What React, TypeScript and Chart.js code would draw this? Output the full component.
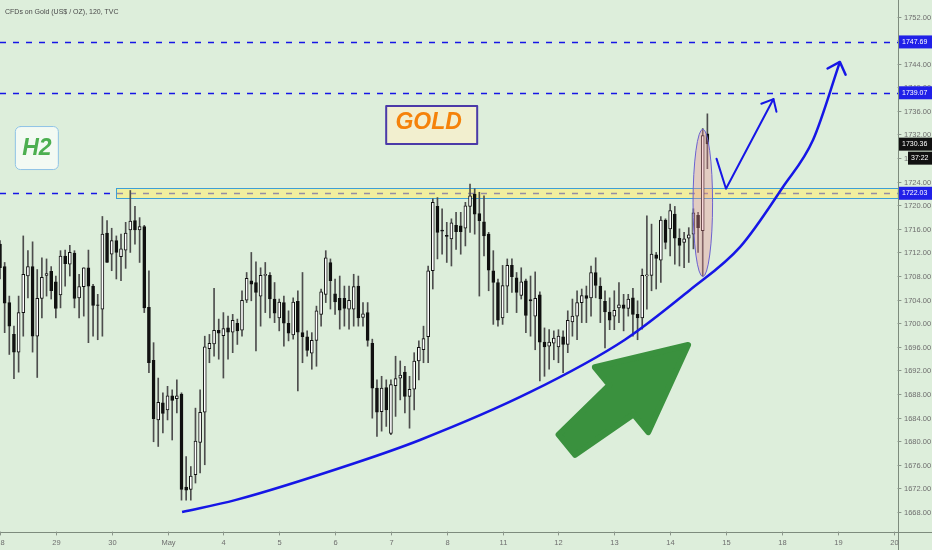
import { useEffect, useRef } from 'react';
import { Chart, registerables } from 'chart.js';
Chart.register(...registerables);

const TITLE = 'CFDs on Gold (US$ / OZ), 120, TVC';
const DAY_LABELS = ['28', '29', '30', 'May', '4', '5', '6', '7', '8', '11', '12', '13', '14', '15', '18', '19', '20'];
const PRICE_TICKS = [1668, 1672, 1676, 1680, 1684, 1688, 1692, 1696, 1700, 1704, 1708, 1712, 1716, 1720, 1724, 1728, 1732, 1736, 1740, 1744, 1748, 1752];
const BARS_PER_DAY = 12;

const OPEN = [
  1713.4, 1709.6, 1703.5, 1698.1, 1695.1, 1701.8, 1708.0, 1709.6, 1697.8, 1704.2,
  1708.1, 1708.8, 1707.0, 1704.8, 1711.4, 1710.0, 1711.9, 1704.3, 1706.2, 1709.4,
  1706.3, 1703.1, 1702.4, 1715.3, 1711.7, 1714.0, 1711.3, 1712.4, 1715.8, 1717.4,
  1715.8, 1716.4, 1702.7, 1693.7, 1683.6, 1686.5, 1685.3, 1687.7, 1687.2, 1688.0,
  1672.2, 1671.8, 1674.3, 1679.8, 1684.9, 1695.7, 1696.5, 1698.8, 1697.9, 1699.2,
  1698.5, 1700.0, 1698.8, 1703.9, 1707.2, 1706.9, 1704.6, 1708.1, 1708.1, 1704.1,
  1700.9, 1703.5, 1700.0, 1698.0, 1703.7, 1698.4, 1697.7, 1694.9, 1697.1, 1701.5,
  1704.9, 1710.3, 1705.0, 1704.2, 1704.2, 1702.4, 1702.4, 1706.3, 1701.0, 1701.8,
  1696.6, 1689.0, 1685.0, 1689.1, 1681.3, 1689.4, 1690.7, 1691.7, 1687.6, 1688.8,
  1693.6, 1695.5, 1697.7, 1708.9, 1719.8, 1715.8, 1714.9, 1714.3, 1716.6, 1716.5,
  1716.1, 1719.8, 1721.9, 1718.6, 1717.2, 1715.1, 1708.9, 1706.9, 1700.9, 1706.3,
  1709.8, 1707.7, 1704.7, 1707.2, 1704.0, 1701.2, 1704.8, 1696.8, 1696.1, 1696.6,
  1696.0, 1697.7, 1696.4, 1700.2, 1701.2, 1703.5, 1704.7, 1704.3, 1708.6, 1706.3,
  1703.7, 1701.9, 1701.2, 1702.6, 1703.1, 1702.5, 1704.3, 1701.5, 1700.9, 1708.0,
  1708.1, 1711.6, 1710.7, 1717.5, 1716.0, 1718.5, 1714.4, 1713.7, 1714.4, 1715.1,
  1718.3, 1715.7, 1732.1,
];
const HIGH = [
  1714.0, 1710.3, 1704.6, 1699.5, 1704.6, 1714.8, 1712.3, 1713.8, 1709.1, 1711.1,
  1710.9, 1709.6, 1708.0, 1712.3, 1712.4, 1713.2, 1712.3, 1708.3, 1709.4, 1712.4,
  1706.6, 1704.9, 1718.1, 1717.4, 1716.1, 1714.8, 1715.1, 1717.1, 1722.5, 1719.8,
  1717.9, 1716.6, 1708.9, 1696.7, 1690.7, 1688.2, 1689.3, 1688.7, 1690.4, 1688.2,
  1677.4, 1675.7, 1685.6, 1688.7, 1697.8, 1698.1, 1705.9, 1700.7, 1701.8, 1701.2,
  1701.5, 1700.7, 1705.5, 1708.6, 1712.0, 1710.4, 1709.4, 1710.3, 1708.6, 1706.9,
  1704.1, 1704.6, 1702.1, 1704.3, 1705.5, 1708.6, 1698.7, 1698.4, 1702.9, 1705.8,
  1712.3, 1710.9, 1707.5, 1708.0, 1706.3, 1706.3, 1708.3, 1708.0, 1703.5, 1703.5,
  1697.3, 1690.4, 1691.0, 1690.4, 1690.4, 1694.4, 1693.6, 1692.7, 1691.0, 1695.0,
  1697.0, 1699.5, 1709.7, 1721.1, 1721.3, 1719.4, 1717.1, 1717.7, 1718.8, 1718.8,
  1720.5, 1723.6, 1722.8, 1722.2, 1721.6, 1715.4, 1712.3, 1707.5, 1709.8, 1710.9,
  1710.9, 1708.6, 1709.4, 1707.5, 1708.0, 1708.7, 1705.3, 1699.2, 1698.9, 1698.7,
  1698.9, 1698.7, 1702.1, 1704.1, 1705.5, 1705.8, 1706.3, 1709.7, 1711.1, 1707.7,
  1705.5, 1704.3, 1705.5, 1706.9, 1704.9, 1704.9, 1705.9, 1703.8, 1709.2, 1718.2,
  1716.8, 1712.0, 1718.1, 1717.7, 1720.2, 1719.8, 1716.0, 1715.4, 1716.2, 1719.4,
  1718.8, 1733.0, 1735.5,
];
const LOW = [
  1707.5, 1698.4, 1694.7, 1690.6, 1691.7, 1697.8, 1704.3, 1695.1, 1690.8, 1700.9,
  1704.6, 1704.1, 1700.9, 1702.6, 1706.3, 1708.0, 1702.6, 1700.9, 1701.2, 1696.7,
  1697.8, 1697.2, 1697.8, 1710.3, 1708.9, 1707.5, 1707.2, 1709.3, 1712.0, 1713.4,
  1710.3, 1701.8, 1691.6, 1679.9, 1679.1, 1681.4, 1683.6, 1680.2, 1684.8, 1670.0,
  1670.0, 1670.0, 1672.9, 1674.6, 1676.0, 1693.3, 1694.4, 1693.9, 1690.7, 1693.9,
  1695.0, 1696.4, 1697.8, 1703.5, 1703.8, 1695.3, 1699.5, 1701.8, 1700.9, 1700.1,
  1698.7, 1696.1, 1697.0, 1697.3, 1688.5, 1693.3, 1694.4, 1692.2, 1692.7, 1699.5,
  1703.5, 1702.4, 1701.5, 1699.0, 1699.5, 1699.0, 1699.5, 1699.5, 1699.5, 1696.1,
  1683.9, 1680.8, 1681.7, 1682.5, 1681.1, 1684.2, 1687.0, 1684.8, 1682.2, 1685.3,
  1690.4, 1693.3, 1693.3, 1705.8, 1710.9, 1711.7, 1710.3, 1709.7, 1712.5, 1711.7,
  1713.1, 1715.4, 1715.1, 1704.6, 1711.4, 1705.5, 1699.8, 1699.5, 1699.8, 1701.8,
  1705.2, 1701.8, 1704.1, 1698.4, 1697.8, 1695.5, 1690.2, 1691.0, 1692.2, 1693.8,
  1693.3, 1691.6, 1695.0, 1697.8, 1697.2, 1700.1, 1700.1, 1701.2, 1704.3, 1700.1,
  1695.8, 1698.9, 1698.9, 1700.1, 1698.7, 1701.2, 1697.8, 1697.2, 1699.0, 1702.4,
  1705.5, 1705.8, 1706.9, 1712.6, 1711.4, 1710.0, 1709.7, 1709.4, 1710.3, 1712.6,
  1712.0, 1708.0, 1726.2,
];
const CLOSE = [
  1709.4, 1703.4, 1699.5, 1695.1, 1701.8, 1708.3, 1709.6, 1697.8, 1704.2, 1707.8,
  1708.4, 1705.5, 1702.5, 1711.4, 1710.1, 1712.0, 1704.2, 1706.2, 1709.4, 1706.3,
  1703.0, 1703.0, 1715.1, 1710.3, 1714.0, 1712.0, 1712.6, 1715.3, 1717.3, 1715.8,
  1716.4, 1702.6, 1693.3, 1683.8, 1686.6, 1684.7, 1687.7, 1686.9, 1687.7, 1671.8,
  1671.7, 1674.1, 1680.0, 1684.9, 1696.0, 1696.6, 1698.8, 1698.3, 1699.1, 1698.5,
  1700.5, 1698.7, 1703.9, 1707.6, 1706.6, 1705.2, 1708.1, 1708.3, 1704.1, 1701.7,
  1703.6, 1700.0, 1698.3, 1703.6, 1698.5, 1697.7, 1695.4, 1697.1, 1702.1, 1705.3,
  1711.1, 1707.2, 1703.6, 1702.2, 1702.5, 1703.9, 1706.2, 1700.9, 1701.6, 1697.1,
  1689.0, 1684.9, 1689.0, 1685.3, 1689.6, 1690.6, 1691.2, 1687.6, 1688.8, 1693.6,
  1695.9, 1697.4, 1708.9, 1720.5, 1715.4, 1715.6, 1714.7, 1717.0, 1715.5, 1715.5,
  1719.9, 1721.6, 1718.5, 1717.4, 1714.8, 1709.0, 1706.9, 1700.5, 1706.4, 1709.8,
  1707.9, 1705.2, 1707.0, 1701.3, 1703.8, 1704.2, 1696.8, 1696.0, 1696.8, 1697.5,
  1697.8, 1696.4, 1700.5, 1701.2, 1703.5, 1704.7, 1704.2, 1708.6, 1706.4, 1704.1,
  1701.9, 1700.5, 1702.2, 1703.1, 1702.5, 1704.1, 1701.5, 1700.9, 1708.1, 1708.2,
  1711.7, 1711.0, 1717.5, 1713.7, 1719.1, 1714.4, 1713.2, 1714.3, 1715.0, 1718.7,
  1716.2, 1731.8, 1730.4,
];

const LEVELS = [1747.69, 1739.07, 1722.03];
const LAST_PRICE = 1730.36;
const COUNTDOWN = '37:22';
const ZONE_LOW = 1721.2;
const ZONE_HIGH = 1722.9;
const ZONE_START_DAY = 2.08;

const CURVE_DAYS = [3.26, 4.21, 6.36, 7.52, 9.49, 11.19, 12.35, 13.25, 14.02, 14.56, 15.04];
const CURVE_PRICES = [1668.0, 1670.0, 1676.3, 1680.2, 1688.3, 1697.2, 1705.6, 1712.9, 1723.1, 1731.1, 1744.3];
const ZIGZAG_DAYS = [12.83, 13.0, 13.85];
const ZIGZAG_PRICES = [1727.9, 1722.8, 1738.0];
const ELLIPSE_DAYS = [12.41, 12.76];
const ELLIPSE_PRICES = [1707.9, 1732.9];
const GREEN_ARROW_DAYS = [10.15, 12.32];
const GREEN_ARROW_PRICES = [1679.4, 1696.3];
const GOLD_LABEL = { text: 'GOLD', day: 7.73, price: 1733.6 };
const TF_LABEL = { text: 'H2', day: 0.66, price: 1729.7 };

const BG = '#ddeedb';
const BLUE = '#1616e6';

function arrowHead(ctx: CanvasRenderingContext2D, fx: number, fy: number, tx: number, ty: number, len: number, ang: number) {
  const a = Math.atan2(ty - fy, tx - fx);
  ctx.beginPath();
  ctx.moveTo(tx - len * Math.cos(a - ang), ty - len * Math.sin(a - ang));
  ctx.lineTo(tx, ty);
  ctx.lineTo(tx - len * Math.cos(a + ang), ty - len * Math.sin(a + ang));
  ctx.stroke();
}

function roundRect(ctx: CanvasRenderingContext2D, x: number, y: number, w: number, h: number, r: number) {
  ctx.beginPath();
  ctx.moveTo(x + r, y);
  ctx.lineTo(x + w - r, y);
  ctx.arcTo(x + w, y, x + w, y + r, r);
  ctx.lineTo(x + w, y + h - r);
  ctx.arcTo(x + w, y + h, x + w - r, y + h, r);
  ctx.lineTo(x + r, y + h);
  ctx.arcTo(x, y + h, x, y + h - r, r);
  ctx.lineTo(x, y + r);
  ctx.arcTo(x, y, x + r, y, r);
  ctx.closePath();
}

const annotations = {
  id: 'annotations',
  beforeDatasetsDraw(chart: any) {
    const { ctx, chartArea: ca, scales } = chart;
    const xs = scales.x, ys = scales.y;
    ctx.save();
    ctx.fillStyle = '#4a4a4a';
    ctx.font = '7px "Liberation Sans", Arial, sans-serif';
    ctx.textBaseline = 'middle';
    ctx.textAlign = 'left';
    ctx.fillText(TITLE, 5, 12);
    ctx.strokeStyle = BLUE;
    ctx.lineWidth = 1.5;
    ctx.setLineDash([6, 7]);
    LEVELS.forEach((p) => {
      const y = Math.round(ys.getPixelForValue(p)) + 0.5;
      ctx.beginPath();
      ctx.moveTo(ca.left, y);
      ctx.lineTo(ca.right, y);
      ctx.stroke();
    });
    ctx.setLineDash([]);
    const zx = xs.getPixelForValue(ZONE_START_DAY);
    const zt = ys.getPixelForValue(ZONE_HIGH);
    const zb = ys.getPixelForValue(ZONE_LOW);
    ctx.fillStyle = 'rgba(255, 240, 110, 0.55)';
    ctx.fillRect(zx, zt, ca.right - zx, zb - zt);
    ctx.strokeStyle = '#3d9fd6';
    ctx.lineWidth = 1;
    ctx.strokeRect(Math.round(zx) + 0.5, Math.round(zt) + 0.5, ca.right - zx, Math.round(zb - zt));
    ctx.restore();
  },
  afterDatasetsDraw(chart: any) {
    const { ctx, chartArea: ca, scales } = chart;
    const xs = scales.x, ys = scales.y;
    const W = chart.width, H = chart.height;
    ctx.save();
    const ex0 = xs.getPixelForValue(ELLIPSE_DAYS[0]);
    const ex1 = xs.getPixelForValue(ELLIPSE_DAYS[1]);
    const ey0 = ys.getPixelForValue(ELLIPSE_PRICES[1]);
    const ey1 = ys.getPixelForValue(ELLIPSE_PRICES[0]);
    ctx.beginPath();
    ctx.ellipse((ex0 + ex1) / 2, (ey0 + ey1) / 2, (ex1 - ex0) / 2, (ey1 - ey0) / 2, 0, 0, Math.PI * 2);
    ctx.fillStyle = 'rgba(236, 140, 150, 0.35)';
    ctx.fill();
    ctx.strokeStyle = '#6a62d0';
    ctx.lineWidth = 1;
    ctx.stroke();
    ctx.strokeStyle = BLUE;
    ctx.lineCap = 'round';
    ctx.lineJoin = 'round';
    ctx.lineWidth = 2.5;
    const n = CURVE_DAYS.length;
    arrowHead(ctx, xs.getPixelForValue(CURVE_DAYS[n - 2]), ys.getPixelForValue(CURVE_PRICES[n - 2]),
      xs.getPixelForValue(CURVE_DAYS[n - 1]), ys.getPixelForValue(CURVE_PRICES[n - 1]), 14, 0.75);
    ctx.lineWidth = 2;
    const m = ZIGZAG_DAYS.length;
    arrowHead(ctx, xs.getPixelForValue(ZIGZAG_DAYS[m - 2]), ys.getPixelForValue(ZIGZAG_PRICES[m - 2]),
      xs.getPixelForValue(ZIGZAG_DAYS[m - 1]), ys.getPixelForValue(ZIGZAG_PRICES[m - 1]), 13, 0.72);
    const tx = xs.getPixelForValue(GREEN_ARROW_DAYS[0]);
    const ty = ys.getPixelForValue(GREEN_ARROW_PRICES[0]);
    const hx = xs.getPixelForValue(GREEN_ARROW_DAYS[1]);
    const hy = ys.getPixelForValue(GREEN_ARROW_PRICES[1]);
    const L = Math.hypot(hx - tx, hy - ty);
    const dx = (hx - tx) / L, dy = (hy - ty) / L;
    const px = -dy, py = dx;
    const headLen = 86, headW = 42, tailW = 13, neckW = 19;
    const bx = hx - dx * headLen, by = hy - dy * headLen;
    ctx.beginPath();
    ctx.moveTo(tx + px * tailW, ty + py * tailW);
    ctx.lineTo(bx + px * neckW, by + py * neckW);
    ctx.lineTo(bx + px * headW, by + py * headW);
    ctx.lineTo(hx, hy);
    ctx.lineTo(bx - px * headW, by - py * headW);
    ctx.lineTo(bx - px * neckW, by - py * neckW);
    ctx.lineTo(tx - px * tailW, ty - py * tailW);
    ctx.closePath();
    ctx.fillStyle = '#3a913e';
    ctx.lineJoin = 'round';
    ctx.fill();
    ctx.strokeStyle = '#3a913e';
    ctx.lineWidth = 6;
    ctx.stroke();
    const gx = xs.getPixelForValue(GOLD_LABEL.day);
    const gy = ys.getPixelForValue(GOLD_LABEL.price);
    ctx.fillStyle = '#f2efcf';
    ctx.fillRect(gx - 45.5, gy - 19, 91, 38);
    ctx.strokeStyle = '#4b3aa8';
    ctx.lineWidth = 2;
    ctx.strokeRect(gx - 45.5, gy - 19, 91, 38);
    ctx.fillStyle = '#f5820a';
    ctx.font = 'italic bold 23px "Liberation Sans", Arial, sans-serif';
    ctx.textAlign = 'center';
    ctx.textBaseline = 'middle';
    ctx.fillText(GOLD_LABEL.text, gx - 3, gy - 2);
    const hx2 = xs.getPixelForValue(TF_LABEL.day);
    const hy2 = ys.getPixelForValue(TF_LABEL.price);
    roundRect(ctx, hx2 - 21.5, hy2 - 21.5, 43, 43, 5);
    ctx.fillStyle = '#f3faf3';
    ctx.fill();
    ctx.strokeStyle = '#8fc3e6';
    ctx.lineWidth = 1;
    ctx.stroke();
    ctx.fillStyle = '#4caf50';
    ctx.font = 'italic bold 23px "Liberation Sans", Arial, sans-serif';
    ctx.fillText(TF_LABEL.text, hx2, hy2 + 1);

    ctx.fillStyle = BG;
    ctx.fillRect(ca.right, 0, W - ca.right, H);
    ctx.fillRect(0, ca.bottom, W, H - ca.bottom);
    ctx.strokeStyle = '#7d8b7d';
    ctx.lineWidth = 1;
    ctx.beginPath();
    ctx.moveTo(ca.right + 0.5, 0);
    ctx.lineTo(ca.right + 0.5, H);
    ctx.moveTo(0, ca.bottom + 0.5);
    ctx.lineTo(W, ca.bottom + 0.5);
    ctx.stroke();
    ctx.font = '7.5px "Liberation Sans", Arial, sans-serif';
    ctx.fillStyle = '#6e6e6e';
    ctx.textAlign = 'left';
    ctx.textBaseline = 'middle';
    ctx.strokeStyle = '#8a968a';
    PRICE_TICKS.forEach((p) => {
      const y = Math.round(ys.getPixelForValue(p)) + 0.5;
      ctx.beginPath();
      ctx.moveTo(ca.right, y);
      ctx.lineTo(ca.right + 3, y);
      ctx.stroke();
      ctx.fillText(p.toFixed(2), ca.right + 6, y);
    });
    ctx.textAlign = 'center';
    DAY_LABELS.forEach((lbl, i) => {
      const x = Math.round(xs.getPixelForValue(i)) + 0.5;
      ctx.beginPath();
      ctx.moveTo(x, ca.bottom);
      ctx.lineTo(x, ca.bottom + 3);
      ctx.stroke();
      ctx.fillText(lbl, x, ca.bottom + 11);
    });
    ctx.font = '7px "Liberation Sans", Arial, sans-serif';
    const box = (p: number, txt: string, color: string, x0: number, dy = 0) => {
      const y = ys.getPixelForValue(p) + dy;
      ctx.fillStyle = color;
      ctx.fillRect(x0, y - 6.5, W - x0, 13);
      ctx.fillStyle = '#ffffff';
      ctx.textAlign = 'left';
      ctx.fillText(txt, x0 + 3, y);
    };
    LEVELS.forEach((p) => box(p, p.toFixed(2), '#2020e8', ca.right + 1));
    box(LAST_PRICE, LAST_PRICE.toFixed(2), '#111111', ca.right + 1);
    box(LAST_PRICE, COUNTDOWN, '#111111', ca.right + 10, 14);
    ctx.restore();
  },
};

export default function App() {
  const ref = useRef<HTMLCanvasElement>(null);
  useEffect(() => {
    if (!ref.current) return;
    const idx = OPEN.map((_, i) => i / BARS_PER_DAY);
    const chart = new Chart(ref.current, {
      type: 'bar',
      data: {
        datasets: [
          {
            type: 'line',
            data: CURVE_DAYS.map((d, i) => ({ x: d, y: CURVE_PRICES[i] })),
            borderColor: BLUE,
            borderWidth: 2.5,
            pointRadius: 0,
            tension: 0.4,
            cubicInterpolationMode: 'monotone',
            order: 0,
          } as any,
          {
            type: 'line',
            data: ZIGZAG_DAYS.map((d, i) => ({ x: d, y: ZIGZAG_PRICES[i] })),
            borderColor: BLUE,
            borderWidth: 2,
            pointRadius: 0,
            tension: 0,
            borderCapStyle: 'round',
            borderJoinStyle: 'round',
            order: 0,
          } as any,
          {
            type: 'bar',
            data: idx.map((x, i) => ({ x, y: [Math.min(OPEN[i], CLOSE[i]), Math.max(OPEN[i], CLOSE[i])] })),
            backgroundColor: OPEN.map((o, i) => (CLOSE[i] >= o ? '#ffffff' : '#111111')),
            borderColor: '#111111',
            borderWidth: 1,
            borderSkipped: false,
            barThickness: 3,
            grouped: false,
            order: 1,
          } as any,
          {
            type: 'bar',
            data: idx.map((x, i) => ({ x, y: [LOW[i], HIGH[i]] })),
            backgroundColor: '#4d4d4d',
            barThickness: 1,
            grouped: false,
            order: 2,
          } as any,
        ],
      },
      options: {
        animation: false,
        responsive: false,
        devicePixelRatio: 1,
        layout: { padding: { left: 0, top: 0, right: 34, bottom: 18 } },
        plugins: { legend: { display: false }, tooltip: { enabled: false }, title: { display: false } },
        scales: {
          x: { type: 'linear', min: 0, max: 16.08, offset: false, display: false },
          y: { type: 'linear', min: 1664.6, max: 1754.8, display: false },
        },
      } as any,
      plugins: [annotations],
    });
    return () => chart.destroy();
  }, []);
  return (
    <div style={{ position: 'absolute', left: 0, top: 0, width: 932, height: 550, background: BG }}>
      <canvas ref={ref} width={932} height={550} style={{ display: 'block' }} />
    </div>
  );
}
